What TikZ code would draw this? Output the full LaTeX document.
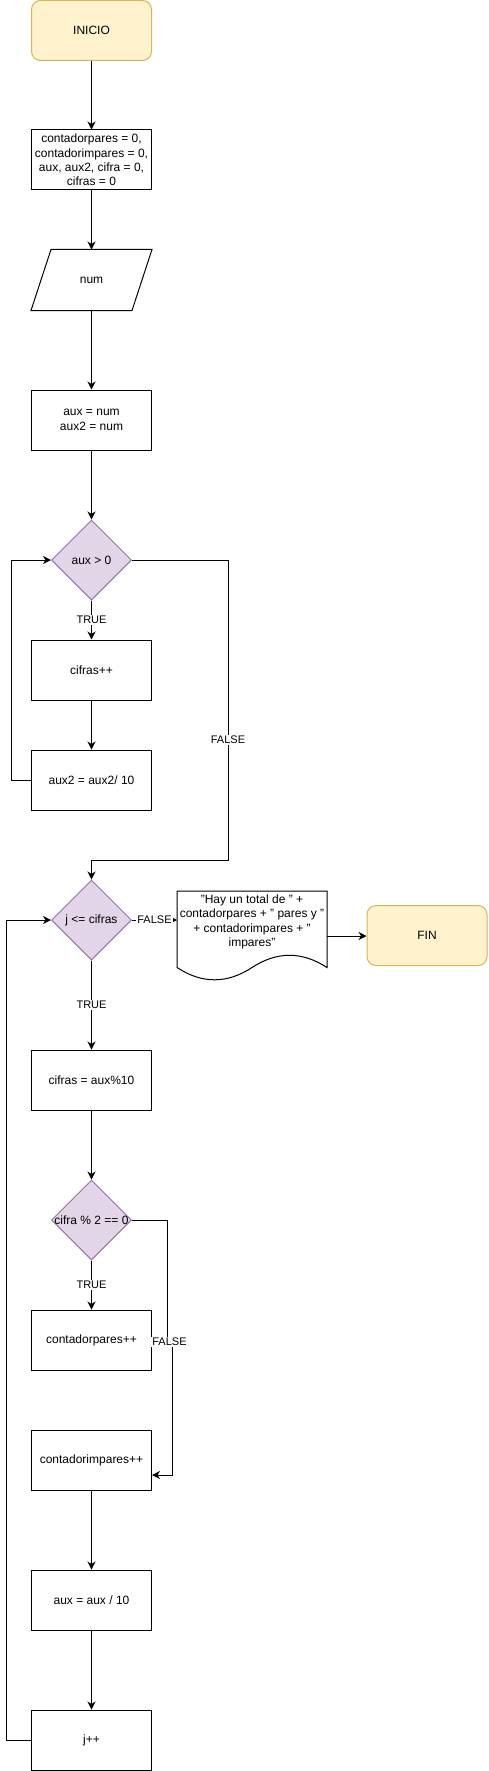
\documentclass[tikz,border=0pt]{standalone}
\usepackage{fontspec}
\setmainfont{Liberation Sans}
\usetikzlibrary{shapes.geometric,arrows.meta}
\definecolor{termfill}{HTML}{FFF2CC}
\definecolor{termline}{HTML}{D6B656}
\definecolor{decfill}{HTML}{E1D5E7}
\definecolor{decline}{HTML}{9673A6}
\begin{document}
\begin{tikzpicture}[x=1pt,y=-1pt,line width=1pt,font=\fontsize{12pt}{14.4pt}\selectfont]
\tikzstyle{every node}+=[inner sep=0pt]
\tikzstyle{term}=[draw=termline,fill=termfill,rounded corners=9pt,minimum width=120pt,minimum height=60pt]
\tikzstyle{proc}=[draw=black,minimum width=120pt,minimum height=60pt,align=center]
\tikzstyle{dec}=[draw=decline,fill=decfill,diamond,minimum width=80pt,minimum height=80pt]
\tikzstyle{arr}=[-{Stealth[length=8pt,width=8pt,inset=2.5pt]}]
\tikzstyle{lbl}=[fill=white,inner sep=1pt,font=\fontsize{11pt}{13pt}\selectfont]
\useasboundingbox (0,0) rectangle (488,1771);
\node[term] (inicio) at (91.5,30.5) {INICIO};
\node[proc] (init) at (91.5,160) {contadorpares = 0,\\contadorimpares = 0,\\aux, aux2, cifra = 0,\\cifras = 0};
\node[minimum width=120pt,minimum height=60pt] (num) at (91.5,280) {num};
\draw ([xshift=20pt]num.north west) -- (num.north east) -- ([xshift=-20pt]num.south east) -- (num.south west) -- cycle;
\node[proc] (aux) at (91.5,420) {aux = num\\aux2 = num};
\node[dec,label=center:{aux > 0}] (d1) at (91.5,560) {};
\node[proc] (cif) at (91.5,670) {cifras++};
\node[proc] (aux2) at (91.5,780) {aux2 = aux2/ 10};
\node[dec,label=center:{j <= cifras}] (d2) at (91.5,920) {};
\node[minimum width=150pt,minimum height=90pt,outer sep=0pt] (doc) at (252,936) {};
\draw (177,891) -- (327,891) -- (327,967.5) .. controls (302,951.2) and (277,951.2) .. (252,967.5)
  .. controls (227,983.9) and (202,983.9) .. (177,967.5) -- cycle;
\node[align=center] (msg) at (252,922) {"Hay un total de " +\\contadorpares + " pares y "\\+ contadorimpares + "\\impares"};
\node[term] (fin) at (427,935.5) {FIN};
\node[proc] (mod) at (91.5,1080) {cifras = aux\%10};
\node[dec,label=center:{cifra \% 2 == 0}] (d3) at (91.5,1220) {};
\node[proc] (par) at (91.5,1340) {contadorpares++};
\node[proc] (impar) at (91.5,1460) {contadorimpares++};
\node[proc] (div) at (91.5,1600) {aux = aux / 10};
\node[proc] (jpp) at (91.5,1740) {j++};
\coordinate (fx) at (172,1475);
\draw[arr] (inicio) -- (init);
\draw[arr] (init) -- (num);
\draw[arr] (num) -- (aux);
\draw[arr] (aux) -- (d1);
\draw[arr] (d1) -- node[lbl]{TRUE} (cif);
\draw[arr] (cif) -- (aux2);
\draw[arr] (aux2.west) -- ++(-19.5,0) |- (d1.west);
\draw[arr] (d1.east) -- (228,560) -- node[lbl,pos=0.6]{FALSE} (228,860) -| (d2.north);
\draw[arr] (d2.east) -- node[lbl]{FALSE} (d2.east -| doc.west);
\draw[arr] (doc.east) -- (doc.east -| fin.west);
\draw[arr] (d2) -- node[lbl]{TRUE} (mod);
\draw[arr] (mod) -- (d3);
\draw[arr] (d3) -- node[lbl]{TRUE} (par);
\draw[arr] (d3.east) -- (167,1220) -- (167,1342) -- node[lbl]{FALSE} (172,1342) -- (fx) -- (fx -| impar.east);
\draw[arr] (impar) -- (div);
\draw[arr] (div) -- (jpp);
\draw[arr] (jpp.west) -- ++(-24.5,0) |- (d2.west);
\end{tikzpicture}
\end{document}
